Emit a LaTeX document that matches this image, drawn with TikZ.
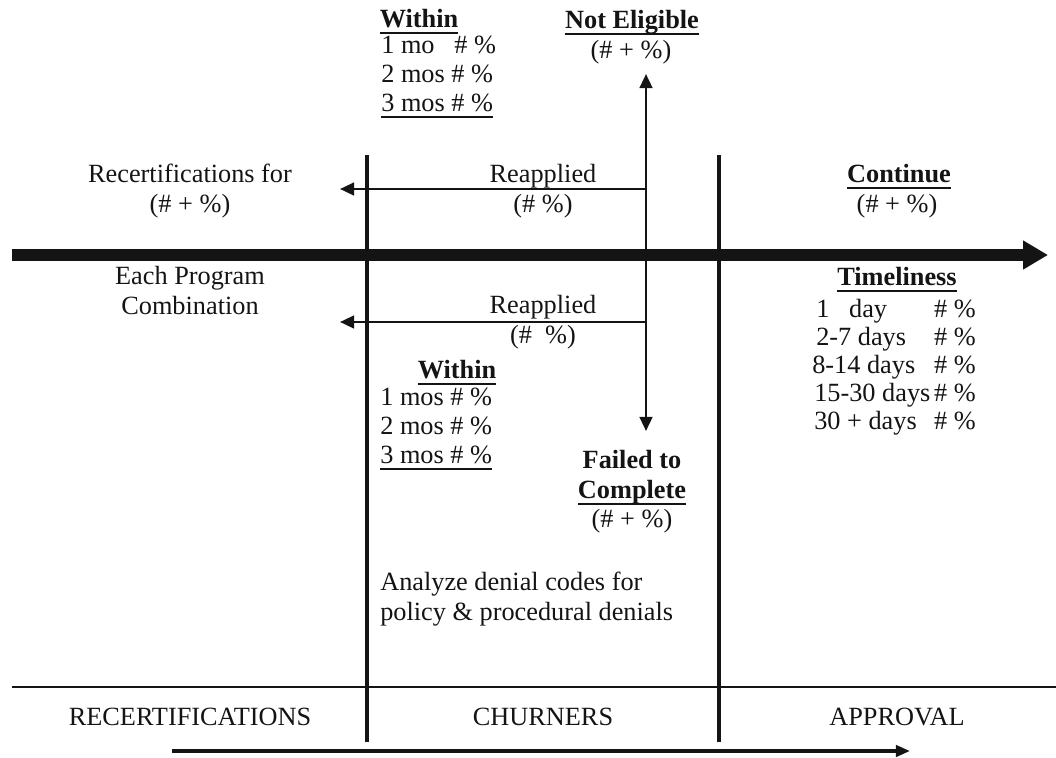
\documentclass[tikz,border=0pt]{standalone}
\usepackage{fontspec}
\setmainfont{Liberation Serif}
\usetikzlibrary{arrows.meta}
\tikzset{%%
  >={Triangle[length=10pt,width=9pt]},
  every node/.style={inner sep=0pt, anchor=base, font=\fontsize{18.7}{20.6}\selectfont},
  lbl/.style={anchor=base west},
  thinline/.style={line width=1.8pt},
  }
\definecolor{myInk}{RGB}{20, 20, 20}
\newcommand{\ulin}[1]{\setbox0\hbox{#1}\rlap{\rule[-5pt]{\wd0}{1.7pt}}\box0}

\begin{document}
\begin{tikzpicture}[x=0.025cm, y=-0.025cm, color=myInk]
  \useasboundingbox (0,0) rectangle (1056,757);
  % axes and separators
  \coordinate (mainL) at (12,255);
  \coordinate (mainR) at (1048,255);
  \draw[line width=9.2pt, -{Triangle[length=0.62cm,width=0.68cm]}] (mainL) -- (mainR);
  \coordinate (sepAtop) at (367,155);
  \coordinate (sepAbot) at (367,742);
  \coordinate (sepBtop) at (719,155);
  \coordinate (sepBbot) at (719,742);
  \draw[line width=2.2pt] (sepAtop) -- (sepAbot);
  \draw[line width=2.2pt] (sepBtop) -- (sepBbot);
  \coordinate (baseL) at (12,687);
  \coordinate (baseR) at (1056,687);
  \draw[thinline] (baseL) -- (baseR);
  \coordinate (flowL) at (172,751);
  \coordinate (flowR) at (910,751);
  \draw[line width=2.4pt, -{Triangle[length=10pt,width=8pt]}] (flowL) -- (flowR);
  % churner arrows
  \coordinate (vUp) at (646,74);
  \coordinate (vDown) at (646,431);
  \draw[thinline, <->] (vUp) -- (vDown);
  \coordinate (reapAs) at (646,189);
  \coordinate (reapAe) at (340,189);
  \coordinate (reapBs) at (646,322);
  \coordinate (reapBe) at (340,322);
  \draw[thinline, ->] (reapAs) -- (reapAe);
  \draw[thinline, ->] (reapBs) -- (reapBe);

  % top within
  \node (withinA) at (419,27) {\ulin{\textbf{Within}}};
  \node[lbl] (moA1) at (381,53) {1 mo\ \ \ \# \%};
  \node[lbl] (moA2) at (381,82) {2 mos \# \%};
  \node[lbl] (moA3) at (381,111) {\ulin{3 mos \# \%}};
  \node (notEl) at (632,28) {\ulin{\textbf{Not Eligible}}};
  \node (notElV) at (631,58) {(\# + \%)};

  % left column
  \node (recert) at (190,182) {Recertifications for};
  \node (recertV) at (190,212) {(\# + \%)};
  \node (eachProg) at (190,284) {Each Program};
  \node (combi) at (190,314) {Combination};

  % churners column
  \node (reapA) at (543,182) {Reapplied};
  \node (reapAV) at (543,212) {(\# \%)};
  \node (reapB) at (543,313) {Reapplied};
  \node (reapBV) at (543,343) {(\#\ \ \%)};
  \node (withinB) at (457,378) {\ulin{\textbf{Within}}};
  \node[lbl] (moB1) at (380,405) {1 mos \# \%};
  \node[lbl] (moB2) at (380,434) {2 mos \# \%};
  \node[lbl] (moB3) at (380,463) {\ulin{3 mos \# \%}};
  \node (failA) at (632,468) {\textbf{Failed to}};
  \node (failB) at (632,498) {\ulin{\textbf{Complete}}};
  \node (failV) at (632,527) {(\# + \%)};
  \node[lbl] (analyze) at (380,590) {Analyze denial codes for};
  \node[lbl] (policy) at (380,620) {policy \& procedural denials};

  % approval column
  \node (cont) at (899,182) {\ulin{\textbf{Continue}}};
  \node (contV) at (897,212) {(\# + \%)};
  \node (timely) at (897,285) {\ulin{\textbf{Timeliness}}};
  \node[lbl] (tdA) at (816,317) {1\ \ \ day};
  \node[lbl] (tdB) at (816,345) {2-7 days};
  \node[lbl] (tdC) at (812,373) {8-14 days};
  \node[lbl] (tdD) at (814,401) {15-30 days};
  \node[lbl] (tdE) at (814,429) {30 + days};
  \foreach \y/\n in {317/A,345/B,373/C,401/D,429/E}
    \node[anchor=base east] (tp\n) at (976,\y) {\# \%};

  % bottom labels
  \node (labRec) at (190,725) {RECERTIFICATIONS};
  \node (labChu) at (543,725) {CHURNERS};
  \node (labApp) at (897,725) {APPROVAL};
\end{tikzpicture}
\end{document}
